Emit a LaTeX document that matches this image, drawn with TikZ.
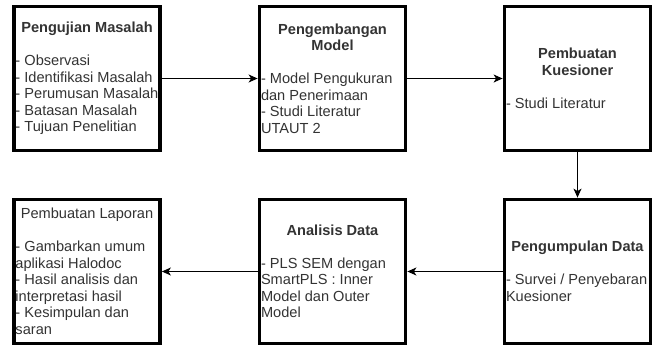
\documentclass[tikz,border=0pt]{standalone}
\usepackage{fontspec}
\setmainfont{Liberation Sans}
\usetikzlibrary{arrows.meta}
\definecolor{txt}{HTML}{333333}

% box content: centred heading, one blank line, left-aligned body
\newcommand\stagetext[2]{\parbox{143pt}{\fontsize{14.6}{16.5}\selectfont
  \centering\bfseries #1\par\vspace{16.5pt}\raggedright\mdseries #2}}

\tikzset{
  stage/.style={draw=black, line width=3.8pt, minimum width=146pt,
    minimum height=144pt, inner sep=0pt, text=txt},
  flow/.style={-{Stealth[length=9pt,width=8pt,inset=2.5pt]}, line width=1.2pt}
}

\begin{document}
\begin{tikzpicture}[x=1pt,y=-1pt]
  \useasboundingbox (0,0) rectangle (654,346);

  \node[stage] (test) at (87,78.5) {\stagetext{Pengujian Masalah}{%
    - Observasi\\
    - Identifikasi Masalah\\
    - Perumusan Masalah\\
    - Batasan Masalah\\
    - Tujuan Penelitian}};

  \node[stage] (model) at (332.5,78.5) {\stagetext{Pengembangan\\Model}{%
    - Model Pengukuran\\
    dan Penerimaan\\
    - Studi Literatur\\
    UTAUT 2}};

  \node[stage] (quest) at (577.5,78.5) {\stagetext{Pembuatan\\Kuesioner}{%
    - Studi Literatur}};

  \node[stage] (collect) at (577.5,271.5) {\stagetext{Pengumpulan Data}{%
    - Survei / Penyebaran\\
    Kuesioner}};

  \node[stage] (analysis) at (332.5,271.5) {\stagetext{Analisis Data}{%
    - PLS SEM dengan\\
    SmartPLS : Inner\\
    Model dan Outer\\
    Model}};

  \node[stage] (report) at (87,271.5) {\stagetext{\mdseries Pembuatan Laporan}{%
    - Gambarkan umum\\
    aplikasi Halodoc\\
    - Hasil analisis dan\\
    interpretasi hasil\\
    - Kesimpulan dan\\
    saran}};

  \draw[flow] (test) -- (model);
  \draw[flow] (model) -- (quest);
  \draw[flow] (quest) -- (collect);
  \draw[flow] (collect) -- (analysis);
  \draw[flow] (analysis) -- (report);
\end{tikzpicture}
\end{document}
